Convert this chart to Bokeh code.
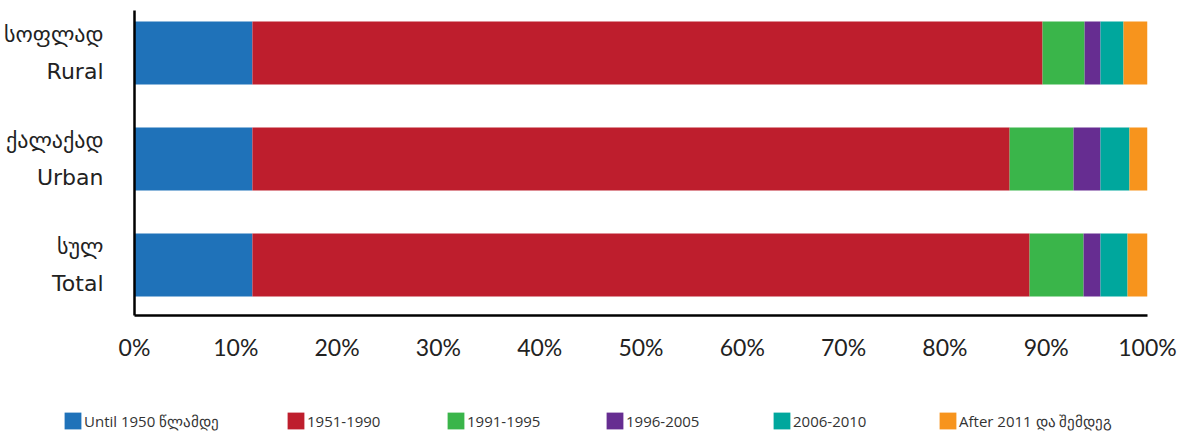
from bokeh.plotting import figure
from bokeh.models import ColumnDataSource, Legend, LegendItem, FixedTicker, Range1d
from bokeh.embed import file_html
from bokeh.resources import INLINE

# ---- data ----
categories_ka = ["სულ", "ქალაქად", "სოფლად"]
categories_en = ["Total", "Urban", "Rural"]
series_labels = ["Until 1950 წლამდე", "1951-1990", "1991-1995", "1996-2005", "2006-2010", "After 2011 და შემდეგ"]
until_1950 = [11.64, 11.64, 11.64]
y1951_1990 = [76.72, 74.75, 78.00]
y1991_1995 = [5.33, 6.31, 4.15]
y1996_2005 = [1.67, 2.66, 1.57]
y2006_2010 = [2.67, 2.86, 2.27]
after_2011 = [1.97, 1.78, 2.37]
x_ticks = [0, 10, 20, 30, 40, 50, 60, 70, 80, 90, 100]
x_tick_labels = ["0%", "10%", "20%", "30%", "40%", "50%", "60%", "70%", "80%", "90%", "100%"]

colors = ["#1F72B9", "#BE1E2D", "#3AB54A", "#662D91", "#00A79D", "#F7941D"]
keys = ["s0", "s1", "s2", "s3", "s4", "s5"]

ypos = list(range(len(categories_en)))
source = ColumnDataSource(dict(y=ypos, s0=until_1950, s1=y1951_1990, s2=y1991_1995,
                               s3=y1996_2005, s4=y2006_2010, s5=after_2011))

W = 1180
p = figure(width=W, height=385, output_backend="svg", toolbar_location=None,
           x_range=Range1d(0, 100), y_range=Range1d(-0.476, 2.401),
           min_border_left=133, min_border_right=W - 1147, min_border_top=10, min_border_bottom=70)
p.outline_line_color = None
p.xgrid.grid_line_color = None
p.ygrid.grid_line_color = None

p.hbar_stack(keys, y="y", height=0.594, color=colors, line_color=None, source=source)

# x axis
p.xaxis.ticker = FixedTicker(ticks=x_ticks)
p.xaxis.major_label_overrides = {t: l for t, l in zip(x_ticks, x_tick_labels)}
p.xaxis.major_tick_line_color = None
p.xaxis.minor_tick_line_color = None
p.xaxis.axis_line_color = "black"
p.xaxis.axis_line_width = 2.5
p.xaxis.major_label_text_font = "Lato"
p.xaxis.major_label_text_font_size = "23px"
p.xaxis.major_label_text_color = "#222222"
p.xaxis.major_label_standoff = 11

# y axis
p.yaxis.ticker = FixedTicker(ticks=ypos)
p.yaxis.major_label_overrides = {i: f"{ka}\n{en}" for i, (ka, en) in enumerate(zip(categories_ka, categories_en))}
p.yaxis.major_tick_line_color = None
p.yaxis.minor_tick_line_color = None
p.yaxis.axis_line_color = "black"
p.yaxis.axis_line_width = 2.5
p.yaxis.major_label_text_font = "DejaVu Sans"
p.yaxis.major_label_text_font_size = "22px"
p.yaxis.major_label_text_color = "#222222"
p.yaxis.major_label_text_line_height = 1.5
p.yaxis.major_label_standoff = 25

# legend figure (separate root, frame spans full width)
lg = figure(width=W, height=52, output_backend="svg", toolbar_location=None,
            x_range=Range1d(0, W), y_range=Range1d(0, 52), x_axis_type=None, y_axis_type=None,
            min_border=0)
lg.outline_line_color = None
lg.xgrid.grid_line_color = None
lg.ygrid.grid_line_color = None
offscreen = ColumnDataSource(dict(x=[-1000], y=[-1000]))
legend_x = [62, 285, 445, 604, 771, 937]
for col, lab, lx in zip(colors, series_labels, legend_x):
    r = lg.rect(x="x", y="y", width=1, height=1, fill_color=col, line_color=None, source=offscreen)
    leg = Legend(items=[LegendItem(label=lab, renderers=[r])], location=(lx, 6),
                 orientation="horizontal", padding=0, margin=0, spacing=0,
                 glyph_width=21, glyph_height=21, label_height=21, label_standoff=1,
                 label_text_font="Open Sans", label_text_font_size="15px",
                 label_text_color="#333333", border_line_color=None,
                 background_fill_alpha=0)
    lg.add_layout(leg)

open("out.html", "w").write(file_html([p, lg], INLINE))
